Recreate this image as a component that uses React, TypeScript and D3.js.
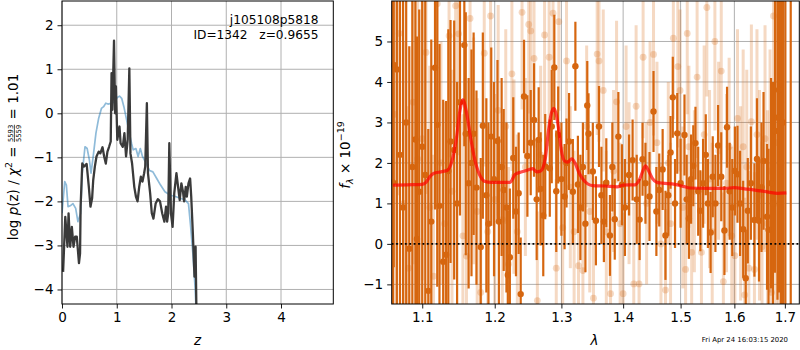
import React, { useEffect, useRef } from 'react';
import * as d3 from 'd3';

// ---- p(z) panel ----
const pzZ = [0.02, 0.06, 0.1, 0.12, 0.15, 0.18, 0.21, 0.24, 0.27, 0.31, 0.33, 0.34, 0.37, 0.4, 0.45, 0.49, 0.52, 0.55, 0.57, 0.6, 0.63, 0.67, 0.7, 0.74, 0.77, 0.8, 0.83, 0.86, 0.89, 0.905, 0.92, 0.95, 0.97, 0.985, 1.01, 1.05, 1.07, 1.11, 1.14, 1.17, 1.2, 1.23, 1.25, 1.28, 1.32, 1.35, 1.38, 1.41, 1.44, 1.47, 1.5, 1.52, 1.55, 1.57, 1.61, 1.64, 1.67, 1.71, 1.75, 1.79, 1.83, 1.87, 1.9, 1.92, 1.94, 1.96, 1.99, 2.02, 2.05, 2.09, 2.12, 2.15, 2.18, 2.21, 2.23, 2.26, 2.28, 2.31, 2.34, 2.36, 2.39, 2.42, 2.44, 2.46, 2.5];
const pzLogP = [-3.6, -2.35, -3.03, -2.27, -3.03, -2.58, -3.03, -2.8, -2.8, -3.4, -3.18, -2.12, -1.14, -1.21, -1.15, -1.67, -2.12, -1.93, -1.52, -1.21, -0.98, -0.87, -0.91, -0.77, -0.98, -1.14, -0.87, -0.76, -0.64, 0.91, 0.08, 1.65, 0.0, 0.61, -0.6, -0.3, -0.68, -0.76, -0.45, -0.98, -0.6, 1.02, -0.91, -1.14, -1.67, -1.89, -2.0, -1.67, -1.44, -1.55, -1.36, -1.21, 0.23, -1.36, -1.82, -2.27, -2.39, -2.05, -1.95, -2.0, -2.27, -2.46, -2.12, -2.46, -2.27, -0.68, -2.27, -2.58, -1.82, -1.36, -1.67, -1.97, -1.59, -1.78, -2.0, -1.67, -1.89, -1.59, -1.48, -1.89, -2.73, -3.71, -3.03, -5.0, -7.0];

const priorZ = [0.0, 0.05, 0.08, 0.11, 0.15, 0.2, 0.25, 0.29, 0.34, 0.37, 0.42, 0.46, 0.5, 0.53, 0.57, 0.62, 0.67, 0.72, 0.76, 0.8, 0.84, 0.91, 0.97, 1.01, 1.05, 1.09, 1.13, 1.18, 1.23, 1.27, 1.3, 1.35, 1.39, 1.43, 1.47, 1.54, 1.6, 1.66, 1.73, 1.8, 1.88, 1.98, 2.07, 2.16, 2.25, 2.31, 2.35, 2.39, 2.43, 2.47, 2.52];
const priorLogP = [-2.27, -1.55, -1.63, -2.12, -2.1, -2.05, -2.16, -2.46, -2.27, -1.36, -0.76, -0.8, -1.06, -1.36, -0.98, -0.45, -0.11, 0.11, 0.15, 0.23, 0.21, 0.23, 0.27, 0.36, 0.39, 0.34, 0.15, -0.15, -0.45, -0.68, -0.83, -0.8, -0.98, -0.8, -0.98, -1.14, -1.3, -1.33, -1.48, -1.63, -1.78, -1.86, -1.89, -1.93, -1.97, -2.05, -2.58, -3.18, -3.94, -5.0, -6.5];

const zTicks = [0, 1, 2, 3, 4];
const pzTicks = [-4, -3, -2, -1, 0, 1, 2];

// ---- spectrum panel: first orientation (solid) ----
const darkWave = [1.062, 1.063, 1.067, 1.071, 1.075, 1.079, 1.083, 1.087, 1.091, 1.093, 1.096, 1.1, 1.104, 1.108, 1.112, 1.117, 1.12, 1.123, 1.128, 1.132, 1.135, 1.138, 1.143, 1.147, 1.151, 1.157, 1.159, 1.163, 1.167, 1.17, 1.174, 1.18, 1.183, 1.188, 1.191, 1.195, 1.199, 1.204, 1.206, 1.21, 1.213, 1.217, 1.219, 1.222, 1.227, 1.231, 1.235, 1.238, 1.243, 1.248, 1.253, 1.258, 1.262, 1.265, 1.268, 1.272, 1.275, 1.282, 1.285, 1.289, 1.292, 1.295, 1.3, 1.305, 1.308, 1.312, 1.318, 1.322, 1.326, 1.33, 1.334, 1.338, 1.341, 1.343, 1.35, 1.355, 1.36, 1.364, 1.368, 1.372, 1.378, 1.382, 1.386, 1.392, 1.398, 1.403, 1.41, 1.416, 1.423, 1.428, 1.433, 1.438, 1.445, 1.452, 1.457, 1.462, 1.468, 1.473, 1.478, 1.482, 1.486, 1.49, 1.494, 1.5, 1.507, 1.511, 1.515, 1.519, 1.523, 1.527, 1.532, 1.536, 1.541, 1.546, 1.55, 1.555, 1.559, 1.564, 1.569, 1.575, 1.581, 1.586, 1.591, 1.596, 1.601, 1.606, 1.611, 1.617, 1.622, 1.626, 1.632, 1.639, 1.644, 1.648, 1.653, 1.657, 1.664, 1.667, 1.672, 1.676, 1.68, 1.685, 1.688, 1.692, 1.696, 1.701, 1.712];
const darkFlux = [1.52, 4.42, 4.31, 2.2, 0.9, 3.0, -0.12, 1.9, 2.58, 0.12, 1.29, 2.4, 1.7, -1.16, 0.55, 4.35, 2.94, 0.94, -0.44, -0.27, 1.8, 2.53, 2.32, 1.0, 3.5, 4.91, 2.72, 1.5, 2.0, 2.72, 1.39, -0.08, 2.92, 1.2, 0.5, 2.65, 1.6, 2.54, 0.55, 1.9, 1.33, 0.9, -0.77, -0.33, 2.12, 0.8, 1.25, -1.24, 3.64, 2.17, 2.5, 3.06, 1.1, 2.57, 1.36, 0.7, 1.91, 1.87, 2.9, 4.36, 1.3, 2.69, 1.6, 1.17, 2.0, 2.53, 1.29, 4.39, 1.47, 0.9, 1.9, 0.5, 3.42, 2.72, 1.79, 0.57, 2.9, 1.2, 0.55, 1.51, 0.21, 1.9, 0.61, 2.65, 1.46, 0.9, 1.7, 2.07, 1.1, 0.6, 2.09, 1.5, 1.17, 3.27, 0.8, 1.33, 1.84, 0.21, 1.2, 2.26, 3.62, 1.0, 2.73, 1.5, 2.69, 1.1, 0.63, 1.6, 1.93, 2.49, 1.3, 0.82, 1.5, 2.2, 1.0, 0.28, 1.66, 1.0, 2.43, 1.66, 0.33, 2.88, 1.3, 0.9, 1.8, 1.72, 1.0, 0.36, -0.85, 0.82, 1.5, 0.59, 2.1, 0.57, 1.4, 2.05, 0.67, 0.35, 1.5, 1.0, 2.79, 3.12, 3.8, 2.0, 3.0, 7.2, 7.5];
const darkErr = [6, 5, 6, 7, 6, 5.5, 5, 6, 5, 5, 4.5, 5, 4.5, 4, 4.5, 3.5, 4, 4, 4, 3.8, 3.5, 3, 3.2, 3, 2.8, 2.5, 3, 2.6, 2.8, 2.5, 2.4, 2.2, 2.3, 2.4, 2.5, 2.2, 2.4, 2, 2.1, 2.2, 2, 2.1, 1.6, 1.7, 1.5, 1.6, 1.5, 1.4, 1.4, 1.5, 1.3, 1.4, 1.5, 1.3, 1.4, 1.5, 1.3, 1.2, 1.4, 1.3, 1.5, 1.2, 1.4, 1.3, 1.1, 1.2, 1.3, 1.1, 1.2, 1.3, 1.1, 1.2, 1.1, 1.0, 1.2, 1.1, 1.0, 1.2, 1.0, 1.1, 1.0, 1.1, 1.0, 1.1, 1.0, 1.2, 1.0, 1.0, 1.1, 1.0, 0.9, 1.0, 1.1, 1.0, 1.1, 0.9, 1.0, 1.1, 1.0, 0.9, 1.0, 1.1, 1.0, 1.1, 1.0, 1.1, 1.0, 1.1, 1.0, 0.9, 1.1, 1.0, 1.1, 1.0, 1.1, 1.0, 1.0, 1.2, 1.0, 1.1, 1.1, 1.0, 1.2, 1.2, 1.1, 1.2, 1.3, 1.2, 1.2, 1.3, 1.4, 1.4, 1.5, 1.5, 1.6, 1.7, 1.8, 2.0, 2.6, 3, 3.5, 4.5, 5, 6, 7, 9, 9.5];

// ---- spectrum panel: second orientation (faint) ----
const lightWave = [1.064, 1.07, 1.076, 1.082, 1.088, 1.094, 1.1, 1.105, 1.11, 1.115, 1.12, 1.125, 1.13, 1.136, 1.14, 1.145, 1.149, 1.155, 1.16, 1.165, 1.17, 1.175, 1.18, 1.185, 1.19, 1.194, 1.2, 1.205, 1.211, 1.216, 1.22, 1.225, 1.228, 1.233, 1.24, 1.245, 1.25, 1.253, 1.258, 1.263, 1.268, 1.274, 1.281, 1.287, 1.292, 1.296, 1.302, 1.308, 1.314, 1.32, 1.327, 1.334, 1.34, 1.345, 1.351, 1.357, 1.36, 1.367, 1.372, 1.379, 1.384, 1.389, 1.395, 1.4, 1.405, 1.41, 1.418, 1.422, 1.427, 1.434, 1.44, 1.446, 1.452, 1.458, 1.465, 1.473, 1.478, 1.482, 1.487, 1.495, 1.499, 1.504, 1.509, 1.512, 1.515, 1.52, 1.525, 1.53, 1.538, 1.543, 1.548, 1.553, 1.558, 1.563, 1.57, 1.575, 1.579, 1.585, 1.59, 1.595, 1.601, 1.606, 1.612, 1.617, 1.62, 1.624, 1.628, 1.633, 1.639, 1.644, 1.649, 1.654, 1.66, 1.665, 1.67, 1.673, 1.677, 1.682, 1.687, 1.692];
const lightFlux = [3.2, 5.2, 1.0, -0.6, 3.5, 2.1, 2.6, 4.73, 0.9, -0.8, 5.93, 2.0, 0.5, 5.14, 1.3, 5.88, 5.19, 0.2, -0.3, 5.57, 2.3, 0.8, -1.2, 4.71, 0.3, 5.63, 1.1, 3.3, 0.6, 2.9, -0.5, 4.2, 1.66, 0.3, 5.72, 1.9, 5.42, 5.26, 4.58, -1.4, 2.2, 5.16, 4.61, 5.7, -0.6, 5.49, 0.4, 4.52, 1.4, 0.3, -0.54, -0.66, 2.9, 0.8, -1.34, 4.69, 4.52, 3.79, 0.3, -1.23, 1.8, 3.51, 0.5, -1.23, 2.9, 1.5, -0.99, 3.4, -0.99, 4.61, 1.0, 3.0, 4.68, 2.5, 0.0, -1.14, 2.0, 0.5, 5.08, 4.38, 3.79, 0.9, -0.63, 5.2, 2.4, -0.21, 1.3, 4.12, -0.21, 2.7, 5.84, 1.6, 0.3, 5.0, 2.3, 4.27, -0.93, 1.5, 2.4, 0.2, -0.29, 3.1, 1.0, 2.4, -1.26, 1.9, -0.6, 3.02, -0.63, 2.7, 1.2, -0.07, 2.6, 0.5, 1.8, -1.2, 5.63, 2.5, 1.0, 3.5];
const lightErr = [5, 4, 4, 4, 4, 4, 3.5, 3.5, 3.5, 3, 3, 3, 3, 3, 3, 3, 3, 3, 3, 2.8, 2.8, 2.8, 2.6, 2.8, 2.6, 2.6, 2.6, 2.6, 2.4, 2.4, 2.4, 2.4, 2.4, 2.4, 2.4, 2.2, 2.2, 2.2, 2.2, 2.2, 2.2, 2.2, 2.2, 2.2, 2.2, 2.2, 2, 2, 2, 2, 2, 2, 2, 2, 2, 2, 2, 2, 2, 2, 2, 2, 2, 2, 2, 2, 2, 2, 2, 2, 2, 2, 2, 2, 2, 2, 2, 2, 2, 2, 2, 2, 2, 2, 2, 2, 2, 2, 2, 2.2, 2.2, 2.2, 2.2, 2.2, 2.2, 2.2, 2.2, 2.2, 2.2, 2.2, 2.2, 2.2, 2.4, 2.4, 2.4, 2.4, 2.4, 2.4, 2.4, 2.6, 2.6, 2.6, 2.8, 2.8, 3, 3, 3, 4, 5, 6];

// ---- best-fit model ----
const modelWave = [1.062, 1.08, 1.1, 1.105, 1.11, 1.115, 1.125, 1.134, 1.14, 1.146, 1.151, 1.155, 1.16, 1.166, 1.172, 1.18, 1.186, 1.195, 1.21, 1.222, 1.23, 1.24, 1.25, 1.256, 1.262, 1.268, 1.275, 1.28, 1.284, 1.288, 1.292, 1.296, 1.3, 1.305, 1.31, 1.316, 1.322, 1.328, 1.335, 1.342, 1.35, 1.37, 1.39, 1.4, 1.41, 1.42, 1.428, 1.434, 1.438, 1.443, 1.45, 1.458, 1.468, 1.49, 1.505, 1.517, 1.55, 1.58, 1.6, 1.62, 1.64, 1.667, 1.685, 1.703];
const modelFlux = [1.45, 1.46, 1.47, 1.52, 1.66, 1.74, 1.78, 1.82, 2.05, 2.6, 3.3, 3.56, 3.25, 2.6, 2.05, 1.65, 1.54, 1.52, 1.52, 1.52, 1.72, 1.78, 1.83, 1.86, 1.78, 1.8, 2.1, 2.8, 3.2, 3.35, 3.2, 2.8, 2.3, 2.05, 2.02, 2.1, 1.98, 1.75, 1.58, 1.48, 1.44, 1.43, 1.41, 1.45, 1.46, 1.46, 1.6, 1.82, 1.93, 1.82, 1.62, 1.52, 1.5, 1.47, 1.42, 1.38, 1.37, 1.37, 1.39, 1.36, 1.33, 1.28, 1.25, 1.26];

const waveTicks = [1.1, 1.2, 1.3, 1.4, 1.5, 1.6, 1.7];
const fluxTicks = [-1, 0, 1, 2, 3, 4, 5];

const FONT = '"DejaVu Sans", sans-serif';
const SPEC = '#d6660f';
const SP = '\u00a0';

type Piece = { t: string; size: number; italic?: boolean; y?: number; frac?: [string, string] };

// lay text pieces along a rotated baseline, centred on (cx, cy)
function mathLabel(svg: d3.Selection<SVGSVGElement, unknown, null, undefined>, cx: number, cy: number, pieces: Piece[]) {
    const g = svg.append('g').attr('font-family', FONT).attr('fill', 'black');
    let x = 0;
    pieces.forEach(p => {
        if (p.frac) {
            const num = g.append('text').attr('x', x).attr('y', -4.8).attr('font-size', p.size).text(p.frac[0]);
            const den = g.append('text').attr('x', x).attr('y', 2.8).attr('font-size', p.size).text(p.frac[1]);
            const w = Math.max((num.node() as SVGTextElement).getComputedTextLength(), (den.node() as SVGTextElement).getComputedTextLength());
            g.append('line').attr('x1', x).attr('x2', x + w).attr('y1', -3.6).attr('y2', -3.6).attr('stroke', 'black').attr('stroke-width', 0.7);
            x += w + 1;
            return;
        }
        const t = g.append('text')
            .attr('x', x).attr('y', p.y ?? 0)
            .attr('font-size', p.size)
            .attr('font-style', p.italic ? 'italic' : 'normal')
            .text(p.t.replace(/ /g, SP));
        x += (t.node() as SVGTextElement).getComputedTextLength();
    });
    g.attr('transform', `translate(${cx},${cy + x / 2}) rotate(-90)`);
}

function styleAxis(g: d3.Selection<SVGGElement, unknown, null, undefined>) {
    g.selectAll('.domain').remove();
    g.selectAll('text').attr('font-family', FONT).attr('font-size', 13.5).attr('fill', 'black');
    g.selectAll('line').attr('stroke', 'black').attr('stroke-width', 0.9);
}

export default function App() {
    const svgRef = useRef<SVGSVGElement>(null);

    useEffect(() => {
        if (!svgRef.current) return;
        const svg = d3.select(svgRef.current);
        svg.selectAll('*').remove();

        // ---------- left: p(z) ----------
        const L = { x0: 62, x1: 333.3, y0: 1, y1: 304 };
        const zx = d3.scaleLinear().domain([0, 4.955]).range([L.x0, L.x1]);
        const zy = d3.scaleLinear().domain([-4.33, 2.55]).range([L.y1, L.y0]);

        const defs = svg.append('defs');
        defs.append('clipPath').attr('id', 'clipL').append('rect')
            .attr('x', L.x0).attr('y', L.y0).attr('width', L.x1 - L.x0).attr('height', L.y1 - L.y0);

        const gl = svg.append('g');
        gl.selectAll('line.vg').data(zTicks).join('line')
            .attr('x1', d => zx(d)).attr('x2', d => zx(d)).attr('y1', L.y0).attr('y2', L.y1)
            .attr('stroke', '#b0b0b0').attr('stroke-width', 1);
        gl.selectAll('line.hg').data(pzTicks).join('line')
            .attr('x1', L.x0).attr('x2', L.x1).attr('y1', d => zy(d)).attr('y2', d => zy(d))
            .attr('stroke', '#b0b0b0').attr('stroke-width', 1);

        const dl = svg.append('g').attr('clip-path', 'url(#clipL)');
        const priorLine = d3.line<number>().x(i => zx(priorZ[i])).y(i => zy(priorLogP[i]));
        dl.append('path').attr('d', priorLine(d3.range(priorZ.length)))
            .attr('fill', 'none').attr('stroke', '#1f77b4').attr('stroke-opacity', 0.5).attr('stroke-width', 1.7)
            .attr('stroke-linejoin', 'round');
        const pzLine = d3.line<number>().x(i => zx(pzZ[i])).y(i => zy(pzLogP[i]));
        dl.append('path').attr('d', pzLine(d3.range(pzZ.length)))
            .attr('fill', 'none').attr('stroke', '#3a3a3a').attr('stroke-width', 2.3)
            .attr('stroke-linejoin', 'round');

        svg.append('rect').attr('x', L.x0).attr('y', L.y0).attr('width', L.x1 - L.x0).attr('height', L.y1 - L.y0)
            .attr('fill', 'none').attr('stroke', 'black').attr('stroke-width', 1);

        styleAxis(svg.append('g').attr('transform', `translate(0,${L.y1})`)
            .call(d3.axisBottom(zx).tickValues(zTicks).tickFormat(d3.format('d')).tickSizeOuter(0).tickSize(4.5).tickPadding(4)));
        styleAxis(svg.append('g').attr('transform', `translate(${L.x0},0)`)
            .call(d3.axisLeft(zy).tickValues(pzTicks).tickFormat(d3.format('d')).tickSizeOuter(0).tickSize(4.5).tickPadding(4)));

        svg.append('text').attr('x', 318.5).attr('y', 24).attr('text-anchor', 'end')
            .attr('font-family', FONT).attr('font-size', 12.2).text('j105108p5818');
        svg.append('text').attr('x', 318.5).attr('y', 38.5).attr('text-anchor', 'end')
            .attr('font-family', FONT).attr('font-size', 12.2).text(`ID=1342${SP}${SP}${SP}z=0.9655`);

        svg.append('text').attr('x', zx(2.475)).attr('y', 345).attr('text-anchor', 'middle')
            .attr('font-family', FONT).attr('font-size', 13.5).attr('font-style', 'italic').text('z');

        mathLabel(svg, 18, 157, [
            { t: 'log ', size: 13.5 },
            { t: 'p', size: 13.5, italic: true },
            { t: '(z) / ', size: 13.5 },
            { t: 'χ', size: 13.5, italic: true },
            { t: '2', size: 9.5, y: -6 },
            { t: ' = ', size: 13.5 },
            { t: '', size: 6.8, frac: ['5593', '5559'] },
            { t: ' = 1.01', size: 13.5 },
        ]);

        // ---------- right: spectrum ----------
        const R = { x0: 391.7, x1: 799.3, y0: 1, y1: 304 };
        const wx = d3.scaleLog().domain([1.0604, 1.7297]).range([R.x0, R.x1]);
        const fy = d3.scaleLinear().domain([-1.485, 6.0]).range([R.y1, R.y0]);

        defs.append('clipPath').attr('id', 'clipR').append('rect')
            .attr('x', R.x0).attr('y', R.y0).attr('width', R.x1 - R.x0).attr('height', R.y1 - R.y0);

        const gr = svg.append('g');
        gr.selectAll('line.vg').data(waveTicks).join('line')
            .attr('x1', d => wx(d)).attr('x2', d => wx(d)).attr('y1', R.y0).attr('y2', R.y1)
            .attr('stroke', '#b0b0b0').attr('stroke-width', 1);
        gr.selectAll('line.hg').data(fluxTicks).join('line')
            .attr('x1', R.x0).attr('x2', R.x1).attr('y1', d => fy(d)).attr('y2', d => fy(d))
            .attr('stroke', '#b0b0b0').attr('stroke-width', 1);

        const dr = svg.append('g').attr('clip-path', 'url(#clipR)');

        const light = dr.append('g');
        const li = d3.range(lightWave.length);
        light.selectAll('line').data(li).join('line')
            .attr('x1', i => wx(lightWave[i])).attr('x2', i => wx(lightWave[i]))
            .attr('y1', i => fy(lightFlux[i] - lightErr[i])).attr('y2', i => fy(lightFlux[i] + lightErr[i]))
            .attr('stroke', SPEC).attr('stroke-opacity', 0.25).attr('stroke-width', 3);
        light.selectAll('circle').data(li).join('circle')
            .attr('cx', i => wx(lightWave[i])).attr('cy', i => fy(lightFlux[i])).attr('r', 3.4)
            .attr('fill', SPEC).attr('fill-opacity', 0.25);

        const dark = dr.append('g');
        const di = d3.range(darkWave.length);
        dark.selectAll('line').data(di).join('line')
            .attr('x1', i => wx(darkWave[i])).attr('x2', i => wx(darkWave[i]))
            .attr('y1', i => fy(darkFlux[i] - darkErr[i])).attr('y2', i => fy(darkFlux[i] + darkErr[i]))
            .attr('stroke', SPEC).attr('stroke-width', 2.2);
        dark.selectAll('circle').data(di).join('circle')
            .attr('cx', i => wx(darkWave[i])).attr('cy', i => fy(darkFlux[i])).attr('r', 3.2)
            .attr('fill', SPEC);

        const modelLine = d3.line<number>().x(i => wx(modelWave[i])).y(i => fy(modelFlux[i])).curve(d3.curveMonotoneX);
        dr.append('path').attr('d', modelLine(d3.range(modelWave.length)))
            .attr('fill', 'none').attr('stroke', 'red').attr('stroke-opacity', 0.7).attr('stroke-width', 3.2)
            .attr('stroke-linejoin', 'round');

        dr.append('line').attr('x1', R.x0).attr('x2', R.x1).attr('y1', fy(0)).attr('y2', fy(0))
            .attr('stroke', 'black').attr('stroke-width', 1.8).attr('stroke-dasharray', '1.8,2.6');

        svg.append('rect').attr('x', R.x0).attr('y', R.y0).attr('width', R.x1 - R.x0).attr('height', R.y1 - R.y0)
            .attr('fill', 'none').attr('stroke', 'black').attr('stroke-width', 1);

        styleAxis(svg.append('g').attr('transform', `translate(0,${R.y1})`)
            .call(d3.axisBottom(wx).tickValues(waveTicks).tickFormat(d3.format('.1f')).tickSizeOuter(0).tickSize(4.5).tickPadding(4)));
        styleAxis(svg.append('g').attr('transform', `translate(${R.x0},0)`)
            .call(d3.axisLeft(fy).tickValues(fluxTicks).tickFormat(d3.format('d')).tickSizeOuter(0).tickSize(4.5).tickPadding(4)));

        svg.append('text').attr('x', (R.x0 + R.x1) / 2 - 1).attr('y', 345).attr('text-anchor', 'middle')
            .attr('font-family', FONT).attr('font-size', 13.5).attr('font-style', 'italic').text('λ');

        mathLabel(svg, 350, 155, [
            { t: 'f', size: 13.5, italic: true },
            { t: 'λ', size: 9.5, italic: true, y: 3 },
            { t: ' × 10', size: 13.5 },
            { t: '−19', size: 9.5, y: -6 },
        ]);

        svg.append('text').attr('x', 788).attr('y', 342).attr('text-anchor', 'end')
            .attr('font-family', FONT).attr('font-size', 6.9).text('Fri Apr 24 16:03:15 2020');
    }, []);

    return (
        <svg ref={svgRef} width={800} height={350}
            style={{ position: 'absolute', left: 0, top: 0, background: 'white' }} />
    );
}
